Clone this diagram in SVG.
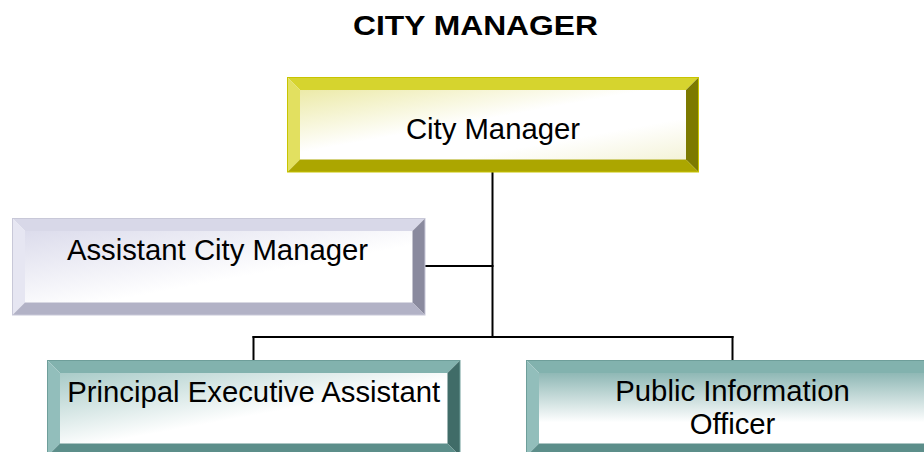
<svg xmlns="http://www.w3.org/2000/svg" width="924" height="452" viewBox="0 0 924 452">
<defs>
<linearGradient id="gY" x1="0" y1="0" x2="1" y2="1"><stop offset="0" stop-color="#eceaa8"/><stop offset="0.45" stop-color="#ffffff"/><stop offset="0.7" stop-color="#ffffff"/><stop offset="1" stop-color="#f4f3d8"/></linearGradient>
<linearGradient id="gP" x1="0" y1="0" x2="1" y2="1"><stop offset="0" stop-color="#dcdcec"/><stop offset="0.6" stop-color="#ffffff"/><stop offset="1" stop-color="#ffffff"/></linearGradient>
<linearGradient id="gT" x1="0" y1="0" x2="1" y2="1"><stop offset="0" stop-color="#a9cbc8"/><stop offset="0.55" stop-color="#ffffff"/><stop offset="1" stop-color="#ffffff"/></linearGradient>
<linearGradient id="gT2" x1="0" y1="0" x2="0" y2="1"><stop offset="0" stop-color="#8fb8b5"/><stop offset="0.7" stop-color="#ffffff"/><stop offset="1" stop-color="#ffffff"/></linearGradient>
</defs>
<style>
.lbl{font-family:"Liberation Sans",Arial,sans-serif;font-size:29.3px;fill:#000;text-anchor:middle}
.title{font-family:"Liberation Sans",Arial,sans-serif;font-size:28px;font-weight:bold;fill:#000;text-anchor:middle}
.y .t{fill:#d6d42e}.y .l{fill:#e2e060}.y .r{fill:#7c7a00}.y .b{fill:#aca600}.y .o{fill:none;stroke:#c8c400;stroke-width:1}
.p .t{fill:#d8d8e8}.p .l{fill:#e6e6f2}.p .r{fill:#8a8a9e}.p .b{fill:#b2b2c6}.p .o{fill:none;stroke:#c8c8d8;stroke-width:1}
.g .t{fill:#82b2ae}.g .l{fill:#92bebb}.g .r{fill:#406c68}.g .b{fill:#5c8e8a}.g .o{fill:none;stroke:#6e9e9a;stroke-width:1}
.conn line{stroke:#000;stroke-width:2}
</style>
<rect width="924" height="452" fill="#fff"/>
<text class="title" x="475.5" y="34.5" textLength="245" lengthAdjust="spacingAndGlyphs">CITY MANAGER</text>
<g class="conn">
<line x1="492.5" y1="172" x2="492.5" y2="338"/>
<line x1="425" y1="266" x2="493.5" y2="266"/>
<line x1="252.5" y1="337" x2="733.5" y2="337"/>
<line x1="253.5" y1="336" x2="253.5" y2="361"/>
<line x1="732.5" y1="336" x2="732.5" y2="361"/>
</g>
<g id="city-manager" class="y">
<rect x="300" y="90" width="386" height="69.5" fill="url(#gY)"/>
<polygon class="t" points="287.5,77.5 698.5,77.5 686,90 300,90"/>
<polygon class="l" points="287.5,77.5 300,90 300,159.5 287.5,172"/>
<polygon class="r" points="698.5,77.5 698.5,172 686,159.5 686,90"/>
<polygon class="b" points="287.5,172 300,159.5 686,159.5 698.5,172"/>
<rect class="o" x="287.5" y="77.5" width="411" height="94.5"/>
<text class="lbl" x="493" y="138.5">City Manager</text>
</g>
<g id="assistant-city-manager" class="p">
<rect x="25" y="231" width="387.5" height="71.5" fill="url(#gP)"/>
<polygon class="t" points="12.5,218.5 425,218.5 412.5,231 25,231"/>
<polygon class="l" points="12.5,218.5 25,231 25,302.5 12.5,315"/>
<polygon class="r" points="425,218.5 425,315 412.5,302.5 412.5,231"/>
<polygon class="b" points="12.5,315 25,302.5 412.5,302.5 425,315"/>
<rect class="o" x="12.5" y="218.5" width="412.5" height="96.5"/>
<text class="lbl" x="217.5" y="260">Assistant City Manager</text>
</g>
<g id="principal-executive-assistant" class="g">
<rect x="60" y="373" width="387.5" height="70.5" fill="url(#gT)"/>
<polygon class="t" points="47.5,360.5 460,360.5 447.5,373 60,373"/>
<polygon class="l" points="47.5,360.5 60,373 60,443.5 47.5,456"/>
<polygon class="r" points="460,360.5 460,456 447.5,443.5 447.5,373"/>
<polygon class="b" points="47.5,456 60,443.5 447.5,443.5 460,456"/>
<rect class="o" x="47.5" y="360.5" width="412.5" height="95.5"/>
<text class="lbl" x="253.7" y="401.5">Principal Executive Assistant</text>
</g>
<g id="public-information-officer" class="g">
<rect x="539" y="373" width="386.5" height="70.5" fill="url(#gT2)"/>
<polygon class="t" points="526.5,360.5 938,360.5 925.5,373 539,373"/>
<polygon class="l" points="526.5,360.5 539,373 539,443.5 526.5,456"/>
<polygon class="r" points="938,360.5 938,456 925.5,443.5 925.5,373"/>
<polygon class="b" points="526.5,456 539,443.5 925.5,443.5 938,456"/>
<rect class="o" x="526.5" y="360.5" width="411.5" height="95.5"/>
<text class="lbl" x="732.5" y="401"><tspan x="732.5">Public Information</tspan><tspan x="732.5" y="434">Officer</tspan></text>
</g>
</svg>
